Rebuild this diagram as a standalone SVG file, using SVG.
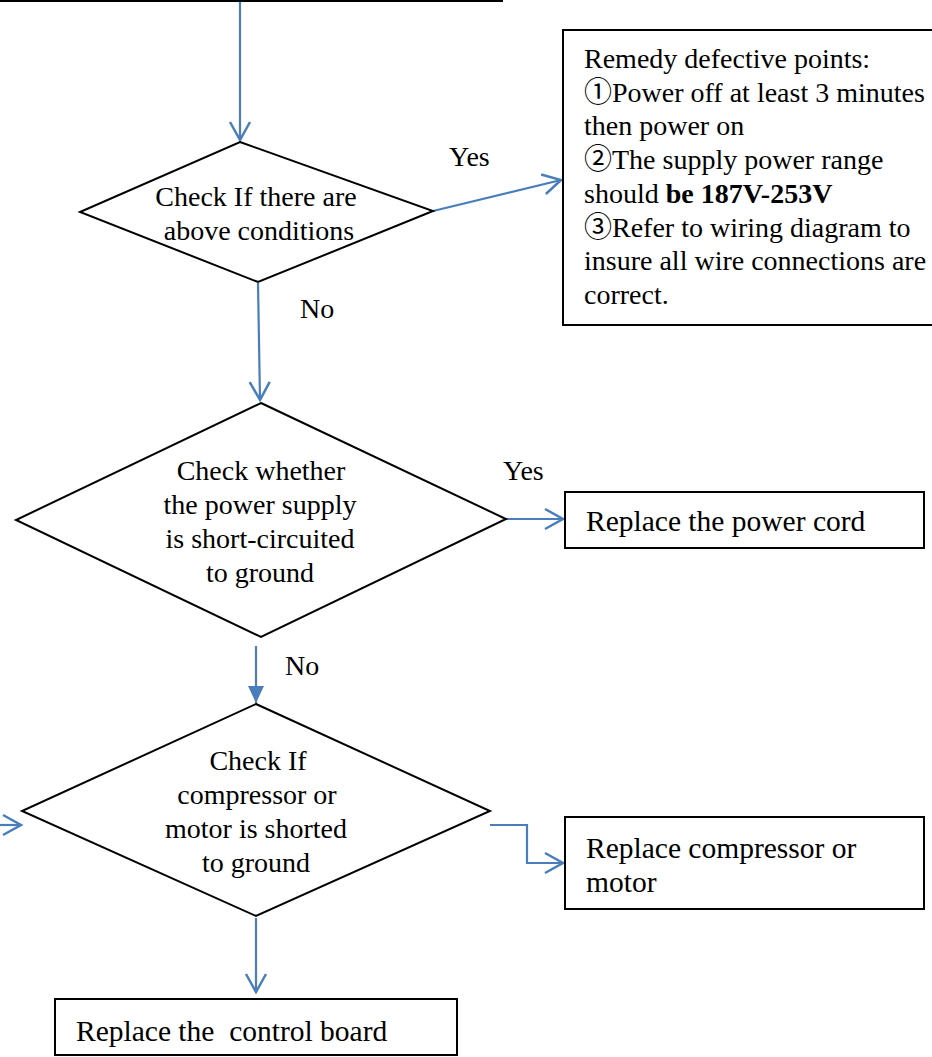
<svg xmlns="http://www.w3.org/2000/svg" width="932" height="1057" viewBox="0 0 932 1057">
<style>
text{font-family:"Liberation Serif","Times New Roman","Noto Sans CJK SC",serif;font-size:28px;fill:#000;white-space:pre}
.big{font-size:29.5px}
.shape{fill:#fff;stroke:#000;stroke-width:2}
.conn{fill:none;stroke:#4a7ebb;stroke-width:2.2}
.mid{text-anchor:middle}
</style>
<defs>
<marker id="open" markerUnits="userSpaceOnUse" viewBox="-22 -12 24 24" refX="0" refY="0" markerWidth="24" markerHeight="24" orient="auto" overflow="visible">
<path d="M-18,-10 L0,0 L-18,10" fill="none" stroke="#4a7ebb" stroke-width="2.5"/>
</marker>
<marker id="solid" markerUnits="userSpaceOnUse" viewBox="-18 -9 18 18" refX="0" refY="0" markerWidth="18" markerHeight="18" orient="auto" overflow="visible">
<path d="M-17,-8 L0,0 L-17,8 Z" fill="#4a7ebb"/>
</marker>
</defs>
<line x1="0" y1="0.5" x2="503" y2="0.5" stroke="#000" stroke-width="3"/>
<g id="connectors">
<line class="conn" x1="240" y1="2" x2="240" y2="140" marker-end="url(#open)"/>
<line class="conn" x1="433" y1="211" x2="561" y2="180" marker-end="url(#open)"/>
<line class="conn" x1="258" y1="283" x2="260" y2="400" marker-end="url(#open)"/>
<line class="conn" x1="506" y1="519" x2="563" y2="519" marker-end="url(#open)"/>
<line class="conn" x1="256" y1="646" x2="256" y2="703" marker-end="url(#solid)"/>
<line class="conn" x1="0" y1="825" x2="21" y2="825" marker-end="url(#open)"/>
<polyline class="conn" points="490,825 527,825 527,863 563,863" marker-end="url(#open)"/>
<line class="conn" x1="256" y1="918" x2="256" y2="992" marker-end="url(#open)"/>
<text x="449" y="166">Yes</text>
<text x="300" y="318">No</text>
<text x="503" y="480">Yes</text>
<text x="285" y="675">No</text>
</g>
<g id="remedy">
<rect class="shape" x="563" y="30" width="380" height="295"/>
<text x="584" y="68">Remedy defective points:</text>
<text x="584" y="102">①Power off at least 3 minutes</text>
<text x="584" y="135">then power on</text>
<text x="584" y="169">②The supply power range</text>
<text x="584" y="203">should <tspan font-weight="bold">be 187V-253V</tspan></text>
<text x="584" y="237">③Refer to wiring diagram to</text>
<text x="584" y="270">insure all wire connections are</text>
<text x="584" y="304">correct.</text>
</g>
<g id="check1">
<polygon class="shape" points="240,142 433,211 258,282 80,212"/>
<text class="mid" x="256" y="206">Check If there are</text>
<text class="mid" x="259" y="240">above conditions</text>
</g>
<g id="check2">
<polygon class="shape" points="261,403 506,519 261,637 16,520"/>
<text class="mid" x="261" y="480">Check whether</text>
<text class="mid" x="260" y="514">the power supply</text>
<text class="mid" x="260" y="548">is short-circuited</text>
<text class="mid" x="260" y="582">to ground</text>
</g>
<g id="powercord">
<rect class="shape" x="565" y="492" width="359" height="56"/>
<text class="big" x="586" y="531">Replace the power cord</text>
</g>
<g id="check3">
<polygon class="shape" points="256,704 490,811 256,916 22,811"/>
<text class="mid" x="258" y="770">Check If</text>
<text class="mid" x="257" y="804">compressor or</text>
<text class="mid" x="256" y="838">motor is shorted</text>
<text class="mid" x="256" y="872">to ground</text>
</g>
<g id="compressor">
<rect class="shape" x="565" y="817" width="359" height="92"/>
<text class="big" x="586" y="858">Replace compressor or</text>
<text class="big" x="586" y="892">motor</text>
</g>
<g id="controlboard">
<rect class="shape" x="55" y="999" width="402" height="56"/>
<text class="big" x="76" y="1041">Replace the  control board</text>
</g>
</svg>
